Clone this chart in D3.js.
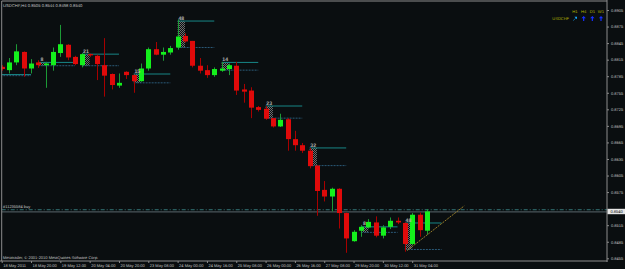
<!DOCTYPE html>
<html>
<head>
<meta charset="utf-8">
<script src="https://cdn.jsdelivr.net/npm/d3@7"></script>
<style>
  html, body { margin: 0; padding: 0; background: #0a0e10; }
  svg { display: block; font-family: "Liberation Sans", Arial, sans-serif; }
</style>
</head>
<body>
<div id="chart"></div>
<script>
// ---- data (USDCHF, H4) ----
const chartTitle = "USDCHF,H4  0.8505 0.8544 0.8498 0.8540";
const copyright  = "Metatrader, \u00a9 2001-2010 MetaQuotes Software Corp.";

const opens = [
  0.8802, 0.8796, 0.8810, 0.8829, 0.8799, 0.8810, 0.8805, 0.8805, 0.8827, 0.8842,
  0.8820, 0.8805, 0.8825, 0.8822, 0.8805, 0.8789, 0.8768, 0.8793, 0.8787, 0.8776,
  0.8799, 0.8834, 0.8824, 0.8828, 0.8837, 0.8858, 0.8849, 0.8804, 0.8796, 0.8787,
  0.8795, 0.8798, 0.8804, 0.8761, 0.8759, 0.8729, 0.8726, 0.8709, 0.8694, 0.8707,
  0.8671, 0.8660, 0.8650, 0.8623, 0.8579, 0.8567, 0.8581, 0.8537, 0.8486, 0.8505,
  0.8511, 0.8520, 0.8496, 0.8512, 0.8523, 0.8519, 0.8481, 0.8534, 0.8505
];
const highs = [
  0.8805, 0.8818, 0.8843, 0.8830, 0.8816, 0.8814, 0.8811, 0.8837, 0.8878, 0.8843,
  0.8822, 0.8827, 0.8826, 0.8824, 0.8854, 0.8790, 0.8790, 0.8794, 0.8788, 0.8808,
  0.8837, 0.8847, 0.8837, 0.8840, 0.8888, 0.8863, 0.8849, 0.8818, 0.8805, 0.8801,
  0.8811, 0.8808, 0.8811, 0.8771, 0.8765, 0.8731, 0.8731, 0.8709, 0.8717, 0.8709,
  0.8686, 0.8664, 0.8655, 0.8624, 0.8595, 0.8583, 0.8582, 0.8538, 0.8506, 0.8515,
  0.8526, 0.8531, 0.8515, 0.8529, 0.8529, 0.8520, 0.8537, 0.8538, 0.8544
];
const lows = [
  0.8795, 0.8790, 0.8805, 0.8784, 0.8790, 0.8800, 0.8764, 0.8795, 0.8820, 0.8814,
  0.8805, 0.8801, 0.8820, 0.8778, 0.8748, 0.8761, 0.8764, 0.8780, 0.8755, 0.8775,
  0.8795, 0.8823, 0.8813, 0.8824, 0.8833, 0.8846, 0.8801, 0.8790, 0.8782, 0.8784,
  0.8793, 0.8787, 0.8751, 0.8737, 0.8709, 0.8721, 0.8706, 0.8692, 0.8693, 0.8650,
  0.8650, 0.8646, 0.8618, 0.8532, 0.8558, 0.8540, 0.8509, 0.8465, 0.8485, 0.8494,
  0.8509, 0.8493, 0.8491, 0.8508, 0.8517, 0.8467, 0.8479, 0.8494, 0.8498
];
const closes = [
  0.8798, 0.8810, 0.8830, 0.8799, 0.8808, 0.8805, 0.8808, 0.8829, 0.8843, 0.8819,
  0.8807, 0.8825, 0.8823, 0.8807, 0.8786, 0.8769, 0.8773, 0.8787, 0.8776, 0.8799,
  0.8834, 0.8824, 0.8829, 0.8836, 0.8857, 0.8848, 0.8804, 0.8795, 0.8787, 0.8798,
  0.8799, 0.8805, 0.8759, 0.8757, 0.8728, 0.8724, 0.8708, 0.8694, 0.8706, 0.8671,
  0.8660, 0.8650, 0.8622, 0.8577, 0.8567, 0.8581, 0.8537, 0.8491, 0.8503, 0.8512,
  0.8521, 0.8496, 0.8511, 0.8523, 0.8520, 0.8481, 0.8534, 0.8506, 0.8540
];

// bottom time axis: bar index of each label
const timeTicks  = [0, 4, 8, 12, 16, 20, 24, 28, 32, 36, 40, 44, 48, 52, 56];
const timeLabels = [
  "18 May 2011", "18 May 20:00", "19 May 12:00", "20 May 04:00", "20 May 20:00",
  "23 May 08:00", "24 May 00:00", "24 May 16:00", "25 May 08:00", "26 May 00:00",
  "26 May 16:00", "27 May 08:00", "29 May 20:00", "30 May 12:00", "31 May 04:00"
];
const priceTicks = [
  0.8455, 0.8485, 0.8515, 0.8545, 0.8575, 0.8605, 0.8635, 0.8665,
  0.8695, 0.8725, 0.8755, 0.8785, 0.8815, 0.8845, 0.8875, 0.8905
];

// indicator zones (bar index, count label, upper and lower price)
const zoneBars    = [-1, 5, 11, 18, 24, 30, 36, 42, 49, 55];
const zoneLabels  = ["", "8", "21", "15", "48", "14", "23", "32", "8", "48"];
const zoneTops    = [0.8788, 0.8810, 0.8825, 0.8789, 0.8885, 0.8810, 0.8731, 0.8655, 0.8512, 0.8519];
const zoneBottoms = [0.8786, 0.8804, 0.8804, 0.8773, 0.8837, 0.8796, 0.8709, 0.8623, 0.8502, 0.8471];

const trendIdx    = [55.3, 63.1];
const trendPrices = [0.8469, 0.8550];

const orderPrice = 0.8543;
const orderLabel = "#11235584 buy";
const bidPrice   = 0.8540;

const tfLabels  = ["H1", "H4", "D1", "W1"];
const tfSignals = ["ne", "up", "up", "up"];
const tfSymbol  = "USDCHF";

// ---- layout ----
const W = 625, H = 269;
const PLOT = { left: 1.7, top: 1, right: 607, bottom: 261 };
const BAR_STEP = 7.33;
const BODY_W = 5;

const C = {
  bg: "#0a0e10",
  frame: "#8c8c8c",
  text: "#c4c4c4",
  bull: "#14f01c",
  bullWick: "#1c9a36",
  bear: "#e00a0a",
  bearWick: "#a80000",
  teal: "#1a9494",
  steel: "#2b5a78",
  hatch: "#6e6e6e",
  trend: "#a88a2c",
  order: "#3f8f92",
  bid: "#6f7c84",
  panel: "#b4b400",
  arrow: "#1530ff",
  arrowNe: "#19aaff"
};

const bars = opens.map((o, i) => ({ i, o, h: highs[i], l: lows[i], c: closes[i] }));

const x = d3.scaleLinear()
  .domain([0, 1])
  .range([PLOT.left, PLOT.left + BAR_STEP]);

const y = d3.scaleLinear()
  .domain([0.8455, 0.8905])
  .range([258.3, 10]);

const svg = d3.select("#chart")
  .append("svg")
    .attr("width", W)
    .attr("height", H)
    .attr("text-rendering", "geometricPrecision");

svg.append("rect")
  .attr("width", W)
  .attr("height", H)
  .attr("fill", C.bg);

const defs = svg.append("defs");
defs.append("clipPath")
    .attr("id", "plot-clip")
  .append("rect")
    .attr("x", PLOT.left)
    .attr("y", PLOT.top)
    .attr("width", PLOT.right - PLOT.left)
    .attr("height", PLOT.bottom - PLOT.top);

const pat = defs.append("pattern")
  .attr("id", "hatch")
  .attr("width", 2)
  .attr("height", 2)
  .attr("patternUnits", "userSpaceOnUse");
pat.append("rect").attr("width", 1).attr("height", 1).attr("fill", C.hatch);
pat.append("rect").attr("x", 1).attr("y", 1).attr("width", 1).attr("height", 1).attr("fill", C.hatch);

const plot = svg.append("g").attr("clip-path", "url(#plot-clip)");

// order line + bid line
plot.append("line")
  .attr("x1", PLOT.left).attr("x2", PLOT.right)
  .attr("y1", y(orderPrice)).attr("y2", y(orderPrice))
  .attr("stroke", C.order)
  .attr("stroke-width", 0.8)
  .attr("stroke-dasharray", "4,2,1,2");

plot.append("line")
  .attr("x1", PLOT.left).attr("x2", PLOT.right)
  .attr("y1", y(bidPrice) + 0.5).attr("y2", y(bidPrice) + 0.5)
  .attr("stroke", C.bid)
  .attr("stroke-width", 0.8);

plot.append("text")
  .attr("x", 3)
  .attr("y", y(orderPrice) - 1.8)
  .attr("font-size", 4)
  .attr("fill", C.text)
  .text(orderLabel);

// zones: hatched box + two level lines + count label
const zones = zoneBars.map((b, k) => ({
  b, label: zoneLabels[k], top: zoneTops[k], bottom: zoneBottoms[k]
}));

plot.selectAll(".zone-box")
  .data(zones)
  .join("rect")
    .attr("class", "zone-box")
    .attr("x", d => x(d.b))
    .attr("y", d => y(d.top))
    .attr("width", BAR_STEP)
    .attr("height", d => y(d.bottom) - y(d.top))
    .attr("fill", "url(#hatch)");

plot.selectAll(".zone-top")
  .data(zones)
  .join("line")
    .attr("class", "zone-top")
    .attr("x1", d => x(d.b))
    .attr("x2", d => x(d.b + 5))
    .attr("y1", d => y(d.top))
    .attr("y2", d => y(d.top))
    .attr("stroke", C.teal)
    .attr("stroke-width", 0.9);

plot.selectAll(".zone-bottom")
  .data(zones)
  .join("line")
    .attr("class", "zone-bottom")
    .attr("x1", d => x(d.b))
    .attr("x2", d => x(d.b + 5))
    .attr("y1", d => y(d.bottom))
    .attr("y2", d => y(d.bottom))
    .attr("stroke", C.steel)
    .attr("stroke-width", 1)
    .attr("stroke-dasharray", "2,1");

// candles
plot.selectAll(".wick")
  .data(bars)
  .join("line")
    .attr("class", "wick")
    .attr("x1", d => Math.round(x(d.i)) + 0.5)
    .attr("x2", d => Math.round(x(d.i)) + 0.5)
    .attr("y1", d => y(d.h))
    .attr("y2", d => y(d.l))
    .attr("stroke", d => d.c >= d.o ? C.bullWick : C.bearWick)
    .attr("stroke-width", 1);

plot.selectAll(".body")
  .data(bars)
  .join("rect")
    .attr("class", "body")
    .attr("x", d => Math.round(x(d.i)) + 0.5 - BODY_W / 2)
    .attr("y", d => y(Math.max(d.o, d.c)))
    .attr("width", BODY_W)
    .attr("height", d => Math.max(1.2, Math.abs(y(d.o) - y(d.c))))
    .attr("fill", d => d.c >= d.o ? C.bull : C.bear);

plot.selectAll(".zone-label")
  .data(zones.filter(d => d.label))
  .join("text")
    .attr("class", "zone-label")
    .attr("x", d => x(d.b) + BAR_STEP / 2)
    .attr("y", d => y(d.top) - 1.4)
    .attr("text-anchor", "middle")
    .attr("font-size", 5.2)
    .attr("font-weight", "bold")
    .attr("fill", "#b4b4b4")
    .text(d => d.label);

// trend line
plot.append("line")
  .attr("x1", x(trendIdx[0])).attr("y1", y(trendPrices[0]))
  .attr("x2", x(trendIdx[1])).attr("y2", y(trendPrices[1]))
  .attr("stroke", C.trend)
  .attr("stroke-width", 0.9)
  .attr("stroke-dasharray", "2,1");

// frame
svg.append("path")
  .attr("d", `M${PLOT.left},${PLOT.bottom}V${PLOT.top}H${PLOT.right}`)
  .attr("fill", "none")
  .attr("stroke", C.frame)
  .attr("stroke-width", 1);
svg.append("line")
  .attr("x1", 0).attr("x2", PLOT.right + 0.5)
  .attr("y1", PLOT.bottom).attr("y2", PLOT.bottom)
  .attr("stroke", C.frame);
svg.append("line")
  .attr("x1", PLOT.right).attr("x2", PLOT.right)
  .attr("y1", 0).attr("y2", PLOT.bottom + 1)
  .attr("stroke", C.frame);

// price axis (the tick hidden behind the bid box is skipped)
svg.append("g")
  .attr("transform", `translate(${PLOT.right},0)`)
  .call(d3.axisRight(y)
    .tickValues(priceTicks.filter(p => Math.abs(y(p) - y(bidPrice)) > 4))
    .tickFormat(d3.format(".4f")).tickSize(2).tickPadding(2))
  .call(g => g.select(".domain").remove())
  .call(g => g.attr("font-size", 4).attr("font-family", null))
  .call(g => g.selectAll("line").attr("stroke", C.frame))
  .call(g => g.selectAll("text").attr("fill", C.text));

// bid price box
svg.append("rect")
  .attr("x", PLOT.right + 0.5)
  .attr("y", y(bidPrice) - 2.6)
  .attr("width", W - PLOT.right)
  .attr("height", 5.4)
  .attr("fill", "#e6e6e6");
svg.append("text")
  .attr("x", PLOT.right + 3.5)
  .attr("y", y(bidPrice) + 1.5)
  .attr("font-size", 4)
  .attr("fill", "#000")
  .text(d3.format(".4f")(bidPrice));

// time axis
svg.append("g")
  .attr("transform", `translate(0,${PLOT.bottom})`)
  .call(d3.axisBottom(x).tickValues(timeTicks).tickFormat((d, k) => timeLabels[k]).tickSize(2).tickPadding(1))
  .call(g => g.select(".domain").remove())
  .call(g => g.attr("font-size", 4).attr("font-family", null))
  .call(g => g.selectAll("line").attr("stroke", C.frame))
  .call(g => g.selectAll("text").attr("text-anchor", "start").attr("x", 1).attr("fill", C.text));

// title and copyright
svg.append("text")
  .attr("x", 3)
  .attr("y", 7)
  .attr("font-size", 4.2)
  .attr("fill", C.text)
  .text(chartTitle);

svg.append("text")
  .attr("x", 3)
  .attr("y", 259)
  .attr("font-size", 4)
  .attr("fill", C.text)
  .text(copyright);

// timeframe signal panel (top right)
const tfX = d3.scalePoint().domain(tfLabels).range([575, 601]);

svg.selectAll(".tf-label")
  .data(tfLabels)
  .join("text")
    .attr("class", "tf-label")
    .attr("x", d => tfX(d))
    .attr("y", 13)
    .attr("text-anchor", "middle")
    .attr("font-size", 4.2)
    .attr("fill", C.panel)
    .text(d => d);

svg.append("text")
  .attr("x", 569)
  .attr("y", 20)
  .attr("text-anchor", "end")
  .attr("font-size", 4)
  .attr("fill", C.panel)
  .text(tfSymbol);

svg.selectAll(".tf-arrow")
  .data(tfLabels.map((t, k) => ({ t, s: tfSignals[k] })))
  .join("path")
    .attr("class", "tf-arrow")
    .attr("transform", d => `translate(${tfX(d.t)},18.5)`)
    .attr("d", d => d.s === "up"
      ? "M-0.6,2.4V-0.2H-2.2L0,-2.6L2.2,-0.2H0.6V2.4Z"
      : "M-2,2L0.6,-0.6L-0.6,-1.8H2V0.8L0.9,-0.3L-1.7,2.3Z")
    .attr("fill", d => d.s === "up" ? C.arrow : C.arrowNe);
</script>
</body>
</html>
